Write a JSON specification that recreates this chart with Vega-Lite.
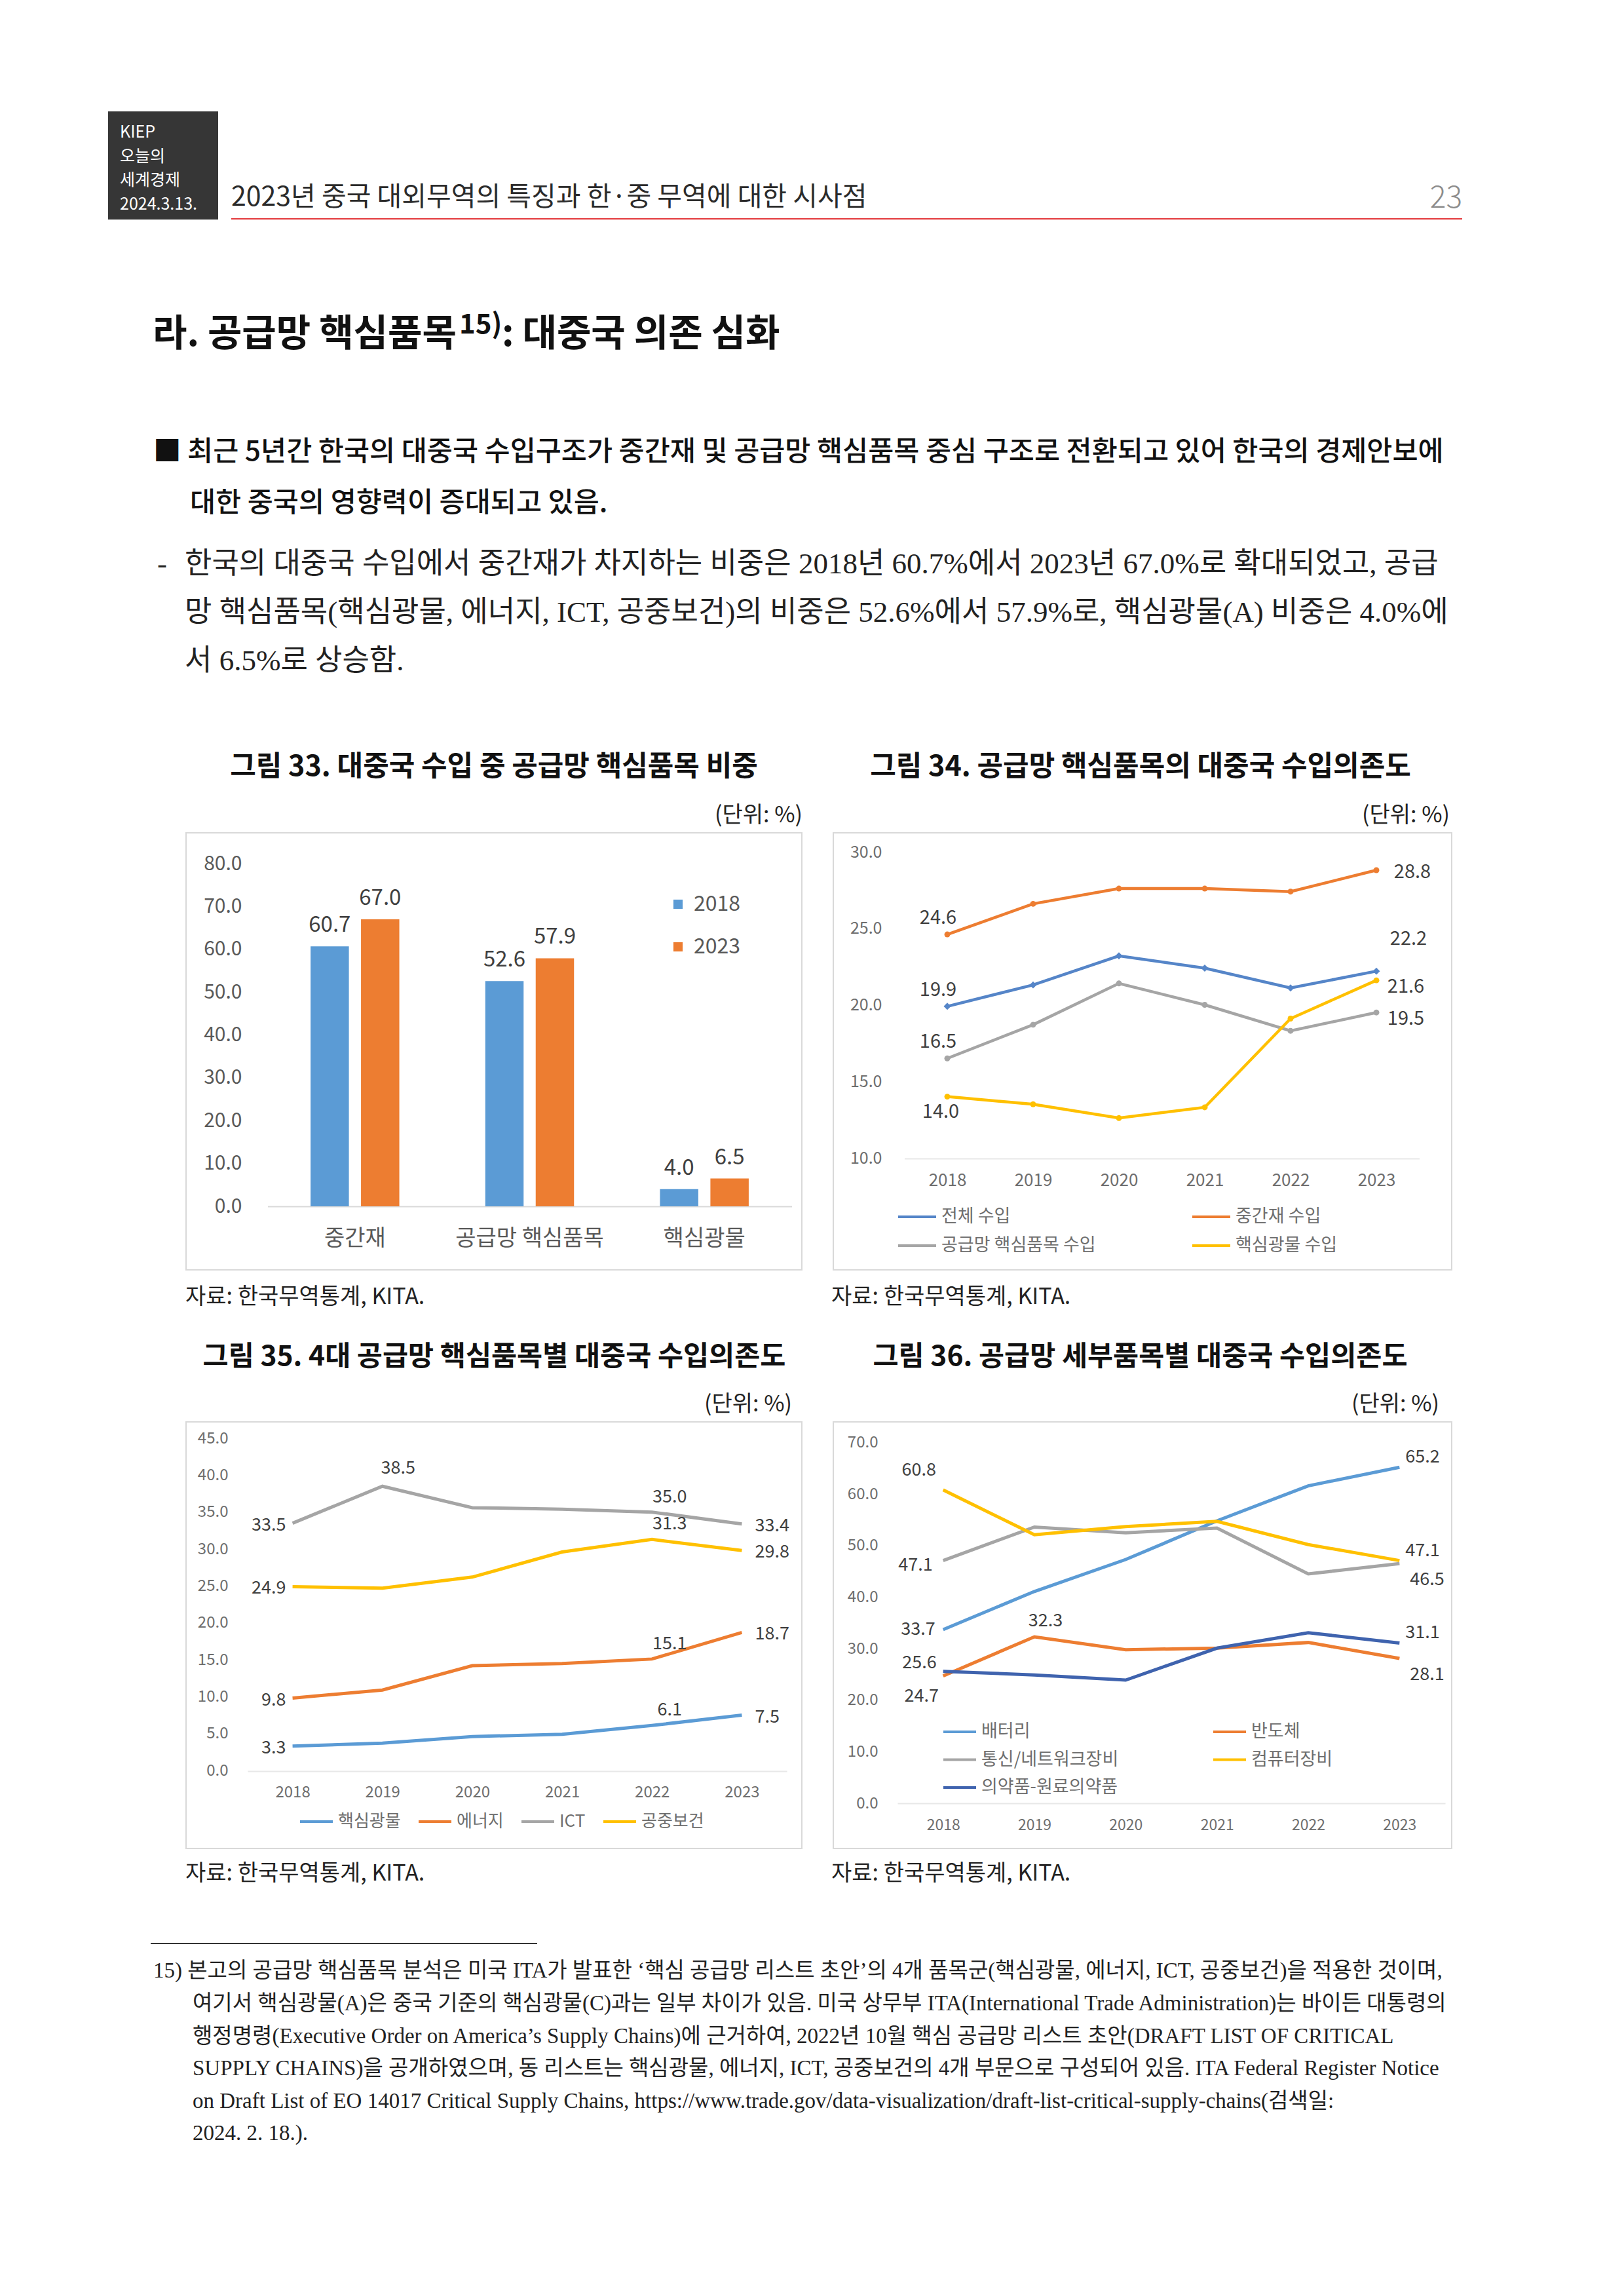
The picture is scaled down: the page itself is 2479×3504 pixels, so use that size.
{
  "$schema": "https://vega.github.io/schema/vega-lite/v6.json",
  "background": "white",
  "padding": {"top": 170, "left": 0, "right": 0, "bottom": 0},
  "config": {
    "view": {"stroke": null},
    "font": "Noto Sans CJK KR",
    "axis": {"labelFont": "Noto Sans CJK KR", "grid": false, "labelLimit": 500},
    "legend": {"labelFont": "Noto Sans CJK KR", "padding": 0, "labelLimit": 500}
  },
  "spacing": 0,
  "resolve": {"scale": {"color": "independent", "shape": "independent"}, "legend": {"color": "independent", "shape": "independent"}},
  "vconcat": [
    {
      "spacing": 20,
      "hconcat": [
        {"width": 145, "height": 165, "data": {"values": [{}]}, "mark": {"type": "text", "text": "", "fontSize": 0.1}},
        {
          "width": 168, "height": 165,
          "view": {"fill": "#363636", "stroke": null},
          "data": {"values": [{"t": "KIEP\n오늘의\n세계경제\n2024.3.13."}]},
          "mark": {"type": "text", "lineBreak": "\n", "lineHeight": 36.7, "align": "left", "baseline": "middle", "dx": -66, "dy": -50.5, "fontSize": 25, "color": "#ffffff", "font": "Noto Sans CJK KR"},
          "encoding": {"text": {"field": "t", "type": "nominal"}}
        },
        {
          "spacing": 0,
          "vconcat": [
            {
              "width": 1879, "height": 163,
              "layer": [
                {"data": {"values": [{"t": "2023년 중국 대외무역의 특징과 한·중 무역에 대한 시사점"}]},
                 "mark": {"type": "text", "align": "left", "baseline": "alphabetic", "dx": -939.5, "dy": 62.5, "fontSize": 41, "color": "#2b2b2b", "font": "Noto Sans CJK KR"},
                 "encoding": {"text": {"field": "t", "type": "nominal"}}},
                {"data": {"values": [{"t": "23"}]},
                 "mark": {"type": "text", "align": "right", "baseline": "alphabetic", "dx": 939.5, "dy": 65.5, "fontSize": 46, "fontWeight": 300, "color": "#8c8c8c", "font": "Noto Sans CJK KR"},
                 "encoding": {"text": {"field": "t", "type": "nominal"}}}
              ]
            },
            {"width": 1879, "height": 2, "view": {"fill": "#e3393c", "stroke": null}, "data": {"values": [{}]}, "mark": {"type": "text", "text": "", "fontSize": 0.1}}
          ]
        }
      ]
    },
    {
      "width": 2479, "height": 935,
      "layer": [
        {"data": {"values": [{"t": "라. 공급망 핵심품목"}]},
         "mark": {"type": "text", "align": "left", "baseline": "alphabetic", "dx": -1006.5, "dy": -275, "fontSize": 57, "fontWeight": 700, "color": "#111111", "font": "Noto Sans CJK KR"},
         "encoding": {"text": {"field": "t", "type": "nominal"}}},
        {"data": {"values": [{"t": "15)"}]},
         "mark": {"type": "text", "align": "left", "baseline": "alphabetic", "dx": -538.5, "dy": -294, "fontSize": 42, "fontWeight": 700, "color": "#111111", "font": "Noto Sans CJK KR"},
         "encoding": {"text": {"field": "t", "type": "nominal"}}},
        {"data": {"values": [{"t": ": 대중국 의존 심화"}]},
         "mark": {"type": "text", "align": "left", "baseline": "alphabetic", "dx": -473.5, "dy": -275, "fontSize": 57, "fontWeight": 700, "color": "#111111", "font": "Noto Sans CJK KR"},
         "encoding": {"text": {"field": "t", "type": "nominal"}}},
        {"data": {"values": [{"t": "■ 최근 5년간 한국의 대중국 수입구조가 중간재 및 공급망 핵심품목 중심 구조로 전환되고 있어 한국의 경제안보에"}]},
         "mark": {"type": "text", "align": "left", "baseline": "alphabetic", "dx": -1005.5, "dy": -99.5, "fontSize": 42.5, "fontWeight": 500, "color": "#111111", "font": "Noto Sans CJK KR"},
         "encoding": {"text": {"field": "t", "type": "nominal"}}},
        {"data": {"values": [{"t": "대한 중국의 영향력이 증대되고 있음."}]},
         "mark": {"type": "text", "align": "left", "baseline": "alphabetic", "dx": -949.5, "dy": -21.5, "fontSize": 42.5, "fontWeight": 500, "color": "#111111", "font": "Noto Sans CJK KR"},
         "encoding": {"text": {"field": "t", "type": "nominal"}}},
        {"data": {"values": [{"t": "-"}]},
         "mark": {"type": "text", "align": "left", "baseline": "alphabetic", "dx": -999.5, "dy": 72, "fontSize": 45, "color": "#222222", "font": "Liberation Serif, Noto Sans CJK KR"},
         "encoding": {"text": {"field": "t", "type": "nominal"}}},
        {"data": {"values": [{"t": "한국의 대중국 수입에서 중간재가 차지하는 비중은 2018년 60.7%에서 2023년 67.0%로 확대되었고, 공급"}]},
         "mark": {"type": "text", "align": "left", "baseline": "alphabetic", "dx": -957.5, "dy": 72, "fontSize": 45, "color": "#222222", "font": "Liberation Serif, Noto Sans CJK KR"},
         "encoding": {"text": {"field": "t", "type": "nominal"}}},
        {"data": {"values": [{"t": "망 핵심품목(핵심광물, 에너지, ICT, 공중보건)의 비중은 52.6%에서 57.9%로, 핵심광물(A) 비중은 4.0%에\n서 6.5%로 상승함."}]},
         "mark": {"type": "text", "align": "left", "baseline": "alphabetic", "lineBreak": "\n", "lineHeight": 74, "dx": -957.5, "dy": 146, "fontSize": 45, "color": "#222222", "font": "Liberation Serif, Noto Sans CJK KR"},
         "encoding": {"text": {"field": "t", "type": "nominal"}}},
        {"data": {"values": [{"t": "그림 33. 대중국 수입 중 공급망 핵심품목 비중"}]},
         "mark": {"type": "text", "align": "center", "baseline": "alphabetic", "dx": -485.5, "dy": 381, "fontSize": 43, "fontWeight": 700, "color": "#111111", "font": "Noto Sans CJK KR"},
         "encoding": {"text": {"field": "t", "type": "nominal"}}},
        {"data": {"values": [{"t": "그림 34. 공급망 핵심품목의 대중국 수입의존도"}]},
         "mark": {"type": "text", "align": "center", "baseline": "alphabetic", "dx": 501.5, "dy": 381, "fontSize": 43, "fontWeight": 700, "color": "#111111", "font": "Noto Sans CJK KR"},
         "encoding": {"text": {"field": "t", "type": "nominal"}}},
        {"data": {"values": [{"t": "(단위: %)"}]},
         "mark": {"type": "text", "align": "right", "baseline": "alphabetic", "dx": -14.5, "dy": 452, "fontSize": 34, "color": "#222222", "font": "Noto Sans CJK KR"},
         "encoding": {"text": {"field": "t", "type": "nominal"}}},
        {"data": {"values": [{"t": "(단위: %)"}]},
         "mark": {"type": "text", "align": "right", "baseline": "alphabetic", "dx": 973.5, "dy": 452, "fontSize": 34, "color": "#222222", "font": "Noto Sans CJK KR"},
         "encoding": {"text": {"field": "t", "type": "nominal"}}}
      ]
    },
    {
      "spacing": 46,
      "resolve": {"scale": {"color": "independent", "shape": "independent"}, "legend": {"color": "independent", "shape": "independent"}},
      "hconcat": [
        {"width": 237, "height": 667, "data": {"values": [{}]}, "mark": {"type": "text", "text": "", "fontSize": 0.1}},
        {
          "width": 940, "height": 667,
          "view": {"stroke": "#d9d9d9", "strokeWidth": 2},
          "data": {"values": [
            {"cat": "중간재", "year": "2018", "v": 60.7},
            {"cat": "중간재", "year": "2023", "v": 67.0},
            {"cat": "공급망 핵심품목", "year": "2018", "v": 52.6},
            {"cat": "공급망 핵심품목", "year": "2023", "v": 57.9},
            {"cat": "핵심광물", "year": "2018", "v": 4.0},
            {"cat": "핵심광물", "year": "2023", "v": 6.5}
          ]},
          "encoding": {
            "x": {"field": "cat", "type": "nominal", "sort": ["중간재", "공급망 핵심품목", "핵심광물"],
                  "scale": {"range": [124.5, 924.5], "paddingInner": 0.492, "paddingOuter": 0.246},
                  "axis": {"orient": "bottom", "offset": -97, "title": null, "labelAngle": 0, "ticks": false, "tickSize": 0, "labelPadding": 49, "labelBaseline": "middle", "labelFontSize": 34, "labelColor": "#595959", "labelLimit": 500, "domainColor": "#d9d9d9", "domainWidth": 2}},
            "xOffset": {"field": "year", "type": "nominal", "scale": {"paddingInner": 0.24, "paddingOuter": 0}},
            "y": {"field": "v", "type": "quantitative",
                  "scale": {"domain": [0, 80], "range": [570, 47], "nice": false},
                  "axis": {"orient": "left", "offset": -124, "title": null, "values": [0, 10, 20, 30, 40, 50, 60, 70, 80], "format": ".1f", "domain": false, "ticks": false, "tickSize": 0, "labelPadding": 39, "labelFontSize": 30, "labelColor": "#595959"}}
          },
          "layer": [
            {"mark": {"type": "bar"},
             "encoding": {"color": {"field": "year", "type": "nominal", "scale": {"domain": ["2018", "2023"], "range": ["#5B9BD5", "#ED7D31"]},
               "legend": {"orient": "none", "legendX": 735, "legendY": 93, "direction": "vertical", "title": null, "symbolType": "square", "symbolSize": 200, "symbolStrokeWidth": 0, "labelFontSize": 32, "labelColor": "#595959", "rowPadding": 33, "labelOffset": 8}}}},
            {"mark": {"type": "text", "baseline": "alphabetic", "dy": -22, "fontSize": 33, "color": "#404040"},
             "encoding": {"text": {"field": "v", "type": "quantitative", "format": ".1f"}}}
          ]
        },
        {
          "width": 944, "height": 667,
          "view": {"stroke": "#d9d9d9", "strokeWidth": 2},
          "data": {"values": [
            {"s": "전체 수입", "year": "2018", "v": 19.9}, {"s": "전체 수입", "year": "2019", "v": 21.3}, {"s": "전체 수입", "year": "2020", "v": 23.2},
            {"s": "전체 수입", "year": "2021", "v": 22.4}, {"s": "전체 수입", "year": "2022", "v": 21.1}, {"s": "전체 수입", "year": "2023", "v": 22.2},
            {"s": "중간재 수입", "year": "2018", "v": 24.6}, {"s": "중간재 수입", "year": "2019", "v": 26.6}, {"s": "중간재 수입", "year": "2020", "v": 27.6},
            {"s": "중간재 수입", "year": "2021", "v": 27.6}, {"s": "중간재 수입", "year": "2022", "v": 27.4}, {"s": "중간재 수입", "year": "2023", "v": 28.8},
            {"s": "공급망 핵심품목 수입", "year": "2018", "v": 16.5}, {"s": "공급망 핵심품목 수입", "year": "2019", "v": 18.7}, {"s": "공급망 핵심품목 수입", "year": "2020", "v": 21.4},
            {"s": "공급망 핵심품목 수입", "year": "2021", "v": 20.0}, {"s": "공급망 핵심품목 수입", "year": "2022", "v": 18.3}, {"s": "공급망 핵심품목 수입", "year": "2023", "v": 19.5},
            {"s": "핵심광물 수입", "year": "2018", "v": 14.0}, {"s": "핵심광물 수입", "year": "2019", "v": 13.5}, {"s": "핵심광물 수입", "year": "2020", "v": 12.6},
            {"s": "핵심광물 수입", "year": "2021", "v": 13.3}, {"s": "핵심광물 수입", "year": "2022", "v": 19.1}, {"s": "핵심광물 수입", "year": "2023", "v": 21.6}
          ]},
          "encoding": {
            "x": {"field": "year", "type": "ordinal", "scale": {"type": "point", "range": [108.5, 894.5], "padding": 0.5},
                  "axis": {"orient": "bottom", "offset": -170, "title": null, "labelAngle": 0, "ticks": false, "tickSize": 0, "labelPadding": 33, "labelBaseline": "middle", "labelFontSize": 26, "labelColor": "#6e6e6e", "domainColor": "#e8e8e8", "domainWidth": 2}},
            "y": {"field": "v", "type": "quantitative", "scale": {"domain": [10, 30], "range": [496, 29], "zero": false, "nice": false},
                  "axis": {"orient": "left", "offset": -108, "title": null, "values": [10, 15, 20, 25, 30], "format": ".1f", "domain": false, "ticks": false, "tickSize": 0, "labelPadding": 34, "labelFontSize": 25, "labelColor": "#6e6e6e"}}
          },
          "layer": [
            {"mark": {"type": "line", "strokeWidth": 4.5},
             "encoding": {"color": {"field": "s", "type": "nominal",
                      "scale": {"domain": ["전체 수입", "중간재 수입", "공급망 핵심품목 수입", "핵심광물 수입"], "range": ["#5585C8", "#ED7D31", "#A5A5A5", "#FFC000"]},
                      "legend": {"orient": "none", "legendX": 97, "legendY": 555, "columns": 2, "direction": "horizontal", "title": null, "symbolType": "stroke", "symbolSize": 3364, "symbolStrokeWidth": 4, "labelFontSize": 27, "labelColor": "#6e6e6e", "labelLimit": 500, "rowPadding": 0, "columnPadding": 139, "labelOffset": 6}}}},
            {"transform": [{"filter": "datum.s == '전체 수입'"}],
             "mark": {"type": "point", "filled": true, "size": 120, "shape": "diamond", "opacity": 1},
             "encoding": {"color": {"field": "s", "type": "nominal", "legend": null}}},
            {"transform": [{"filter": "datum.s != '전체 수입'"}],
             "mark": {"type": "point", "filled": true, "size": 80, "shape": "circle", "opacity": 1},
             "encoding": {"color": {"field": "s", "type": "nominal", "legend": null}}},
            {"transform": [{"filter": "datum.year == '2018' && datum.s != '핵심광물 수입'"}],
             "mark": {"type": "text", "baseline": "middle", "dx": -14, "dy": -25, "fontSize": 29, "color": "#404040"},
             "encoding": {"text": {"field": "v", "type": "quantitative", "format": ".1f"}}},
            {"transform": [{"filter": "datum.year == '2018' && datum.s == '핵심광물 수입'"}],
             "mark": {"type": "text", "baseline": "middle", "dx": -10, "dy": 23, "fontSize": 29, "color": "#404040"},
             "encoding": {"text": {"field": "v", "type": "quantitative", "format": ".1f"}}},
            {"transform": [{"filter": "datum.year == '2023' && datum.s == '중간재 수입'"}],
             "mark": {"type": "text", "baseline": "middle", "dx": 55, "dy": 3, "fontSize": 29, "color": "#404040"},
             "encoding": {"text": {"field": "v", "type": "quantitative", "format": ".1f"}}},
            {"transform": [{"filter": "datum.year == '2023' && (datum.s == '핵심광물 수입' || datum.s == '공급망 핵심품목 수입')"}],
             "mark": {"type": "text", "baseline": "middle", "dx": 45, "dy": 10, "fontSize": 29, "color": "#404040"},
             "encoding": {"text": {"field": "v", "type": "quantitative", "format": ".1f"}}},
            {"transform": [{"filter": "datum.year == '2023' && datum.s == '전체 수입'"}],
             "mark": {"type": "text", "baseline": "middle", "dx": 49, "dy": -49, "fontSize": 29, "color": "#404040"},
             "encoding": {"text": {"field": "v", "type": "quantitative", "format": ".1f"}}}
          ]
        }
      ]
    },
    {
      "width": 2479, "height": 230,
      "layer": [
        {"data": {"values": [{"t": "자료: 한국무역통계, KITA."}]},
         "mark": {"type": "text", "align": "left", "baseline": "alphabetic", "dx": -956.5, "dy": -64, "fontSize": 34, "color": "#222222", "font": "Noto Sans CJK KR"},
         "encoding": {"text": {"field": "t", "type": "nominal"}}},
        {"data": {"values": [{"t": "자료: 한국무역통계, KITA."}]},
         "mark": {"type": "text", "align": "left", "baseline": "alphabetic", "dx": 29.5, "dy": -64, "fontSize": 34, "color": "#222222", "font": "Noto Sans CJK KR"},
         "encoding": {"text": {"field": "t", "type": "nominal"}}},
        {"data": {"values": [{"t": "그림 35. 4대 공급망 핵심품목별 대중국 수입의존도"}]},
         "mark": {"type": "text", "align": "center", "baseline": "alphabetic", "dx": -485, "dy": 30, "fontSize": 42.5, "fontWeight": 700, "color": "#111111", "font": "Noto Sans CJK KR"},
         "encoding": {"text": {"field": "t", "type": "nominal"}}},
        {"data": {"values": [{"t": "그림 36. 공급망 세부품목별 대중국 수입의존도"}]},
         "mark": {"type": "text", "align": "center", "baseline": "alphabetic", "dx": 501, "dy": 30, "fontSize": 42.5, "fontWeight": 700, "color": "#111111", "font": "Noto Sans CJK KR"},
         "encoding": {"text": {"field": "t", "type": "nominal"}}},
        {"data": {"values": [{"t": "(단위: %)"}]},
         "mark": {"type": "text", "align": "right", "baseline": "alphabetic", "dx": -30.5, "dy": 100, "fontSize": 34, "color": "#222222", "font": "Noto Sans CJK KR"},
         "encoding": {"text": {"field": "t", "type": "nominal"}}},
        {"data": {"values": [{"t": "(단위: %)"}]},
         "mark": {"type": "text", "align": "right", "baseline": "alphabetic", "dx": 957.5, "dy": 100, "fontSize": 34, "color": "#222222", "font": "Noto Sans CJK KR"},
         "encoding": {"text": {"field": "t", "type": "nominal"}}}
      ]
    },
    {
      "spacing": 46,
      "resolve": {"scale": {"color": "independent", "shape": "independent"}, "legend": {"color": "independent", "shape": "independent"}},
      "hconcat": [
        {"width": 237, "height": 651, "data": {"values": [{}]}, "mark": {"type": "text", "text": "", "fontSize": 0.1}},
        {
          "width": 940, "height": 651,
          "view": {"stroke": "#d9d9d9", "strokeWidth": 2},
          "data": {"values": [
            {"s": "핵심광물", "year": "2018", "v": 3.3}, {"s": "핵심광물", "year": "2019", "v": 3.7}, {"s": "핵심광물", "year": "2020", "v": 4.6},
            {"s": "핵심광물", "year": "2021", "v": 4.9}, {"s": "핵심광물", "year": "2022", "v": 6.1}, {"s": "핵심광물", "year": "2023", "v": 7.5},
            {"s": "에너지", "year": "2018", "v": 9.8}, {"s": "에너지", "year": "2019", "v": 10.9}, {"s": "에너지", "year": "2020", "v": 14.2},
            {"s": "에너지", "year": "2021", "v": 14.5}, {"s": "에너지", "year": "2022", "v": 15.1}, {"s": "에너지", "year": "2023", "v": 18.7},
            {"s": "ICT", "year": "2018", "v": 33.5}, {"s": "ICT", "year": "2019", "v": 38.5}, {"s": "ICT", "year": "2020", "v": 35.6},
            {"s": "ICT", "year": "2021", "v": 35.4}, {"s": "ICT", "year": "2022", "v": 35.0}, {"s": "ICT", "year": "2023", "v": 33.4},
            {"s": "공중보건", "year": "2018", "v": 24.9}, {"s": "공중보건", "year": "2019", "v": 24.7}, {"s": "공중보건", "year": "2020", "v": 26.2},
            {"s": "공중보건", "year": "2021", "v": 29.6}, {"s": "공중보건", "year": "2022", "v": 31.3}, {"s": "공중보건", "year": "2023", "v": 29.8}
          ]},
          "encoding": {
            "x": {"field": "year", "type": "ordinal", "scale": {"type": "point", "range": [94, 917], "padding": 0.5},
                  "axis": {"orient": "bottom", "offset": -118, "title": null, "labelAngle": 0, "ticks": false, "tickSize": 0, "labelPadding": 32, "labelBaseline": "middle", "labelFontSize": 24, "labelColor": "#6e6e6e", "domainColor": "#e8e8e8", "domainWidth": 2}},
            "y": {"field": "v", "type": "quantitative", "scale": {"domain": [0, 45], "range": [532, 25], "nice": false},
                  "axis": {"orient": "left", "offset": -95, "title": null, "values": [0, 5, 10, 15, 20, 25, 30, 35, 40, 45], "format": ".1f", "domain": false, "ticks": false, "tickSize": 0, "labelPadding": 31, "labelFontSize": 24, "labelColor": "#6e6e6e"}},
            "color": {"field": "s", "type": "nominal",
                      "scale": {"domain": ["핵심광물", "에너지", "ICT", "공중보건"], "range": ["#5B9BD5", "#ED7D31", "#A5A5A5", "#FFC000"]},
                      "legend": {"orient": "none", "legendX": 172, "legendY": 583, "columns": 4, "direction": "horizontal", "title": null, "symbolType": "stroke", "symbolSize": 2500, "symbolStrokeWidth": 4, "labelFontSize": 26, "labelColor": "#6e6e6e", "columnPadding": 19, "labelOffset": 6}}
          },
          "layer": [
            {"mark": {"type": "line", "strokeWidth": 5}},
            {"transform": [{"filter": "datum.year == '2018'"}],
             "mark": {"type": "text", "align": "right", "baseline": "middle", "dx": -10, "dy": 3, "fontSize": 27},
             "encoding": {"text": {"field": "v", "type": "quantitative", "format": ".1f"}, "color": {"value": "#404040"}}},
            {"transform": [{"filter": "datum.year == '2019' && datum.s == 'ICT'"}],
             "mark": {"type": "text", "align": "center", "baseline": "middle", "dx": 24, "dy": -27, "fontSize": 27},
             "encoding": {"text": {"field": "v", "type": "quantitative", "format": ".1f"}, "color": {"value": "#404040"}}},
            {"transform": [{"filter": "datum.year == '2022'"}],
             "mark": {"type": "text", "align": "center", "baseline": "middle", "dx": 27, "dy": -23, "fontSize": 27},
             "encoding": {"text": {"field": "v", "type": "quantitative", "format": ".1f"}, "color": {"value": "#404040"}}},
            {"transform": [{"filter": "datum.year == '2023'"}],
             "mark": {"type": "text", "align": "left", "baseline": "middle", "dx": 20, "dy": 3, "fontSize": 27},
             "encoding": {"text": {"field": "v", "type": "quantitative", "format": ".1f"}, "color": {"value": "#404040"}}}
          ]
        },
        {
          "width": 944, "height": 651,
          "view": {"stroke": "#d9d9d9", "strokeWidth": 2},
          "data": {"values": [
            {"s": "배터리", "year": "2018", "v": 33.7}, {"s": "배터리", "year": "2019", "v": 41.1}, {"s": "배터리", "year": "2020", "v": 47.3},
            {"s": "배터리", "year": "2021", "v": 54.8}, {"s": "배터리", "year": "2022", "v": 61.6}, {"s": "배터리", "year": "2023", "v": 65.2},
            {"s": "반도체", "year": "2018", "v": 24.7}, {"s": "반도체", "year": "2019", "v": 32.3}, {"s": "반도체", "year": "2020", "v": 29.8},
            {"s": "반도체", "year": "2021", "v": 30.1}, {"s": "반도체", "year": "2022", "v": 31.2}, {"s": "반도체", "year": "2023", "v": 28.1},
            {"s": "통신/네트워크장비", "year": "2018", "v": 47.1}, {"s": "통신/네트워크장비", "year": "2019", "v": 53.6}, {"s": "통신/네트워크장비", "year": "2020", "v": 52.5},
            {"s": "통신/네트워크장비", "year": "2021", "v": 53.4}, {"s": "통신/네트워크장비", "year": "2022", "v": 44.5}, {"s": "통신/네트워크장비", "year": "2023", "v": 46.5},
            {"s": "컴퓨터장비", "year": "2018", "v": 60.8}, {"s": "컴퓨터장비", "year": "2019", "v": 52.1}, {"s": "컴퓨터장비", "year": "2020", "v": 53.7},
            {"s": "컴퓨터장비", "year": "2021", "v": 54.7}, {"s": "컴퓨터장비", "year": "2022", "v": 50.2}, {"s": "컴퓨터장비", "year": "2023", "v": 47.1},
            {"s": "의약품-원료의약품", "year": "2018", "v": 25.6}, {"s": "의약품-원료의약품", "year": "2019", "v": 24.9}, {"s": "의약품-원료의약품", "year": "2020", "v": 23.9},
            {"s": "의약품-원료의약품", "year": "2021", "v": 30.1}, {"s": "의약품-원료의약품", "year": "2022", "v": 33.1}, {"s": "의약품-원료의약품", "year": "2023", "v": 31.1}
          ]},
          "encoding": {
            "x": {"field": "year", "type": "ordinal", "scale": {"type": "point", "range": [98, 934], "padding": 0.5},
                  "axis": {"orient": "bottom", "offset": -69, "title": null, "labelAngle": 0, "ticks": false, "tickSize": 0, "labelPadding": 33, "labelBaseline": "middle", "labelFontSize": 23, "labelColor": "#6e6e6e", "domainColor": "#e8e8e8", "domainWidth": 2}},
            "y": {"field": "v", "type": "quantitative", "scale": {"domain": [0, 70], "range": [582, 31.5], "nice": false},
                  "axis": {"orient": "left", "offset": -99, "title": null, "values": [0, 10, 20, 30, 40, 50, 60, 70], "format": ".1f", "domain": false, "ticks": false, "tickSize": 0, "labelPadding": 31, "labelFontSize": 24, "labelColor": "#6e6e6e"}},
            "color": {"field": "s", "type": "nominal",
                      "scale": {"domain": ["배터리", "반도체", "통신/네트워크장비", "컴퓨터장비", "의약품-원료의약품"], "range": ["#5B9BD5", "#ED7D31", "#A5A5A5", "#FFC000", "#3F63AE"]},
                      "legend": {"orient": "none", "legendX": 166, "legendY": 446, "columns": 2, "direction": "horizontal", "title": null, "symbolType": "stroke", "symbolSize": 2500, "symbolStrokeWidth": 4, "labelFontSize": 27, "labelColor": "#6e6e6e", "labelLimit": 500, "rowPadding": 2.5, "columnPadding": 136, "labelOffset": 6}}
          },
          "layer": [
            {"mark": {"type": "line", "strokeWidth": 5}},
            {"transform": [{"filter": "datum.year == '2018' && datum.s == '컴퓨터장비'"}],
             "mark": {"type": "text", "align": "center", "baseline": "middle", "dx": -37, "dy": -30, "fontSize": 27},
             "encoding": {"text": {"field": "v", "type": "quantitative", "format": ".1f"}, "color": {"value": "#404040"}}},
            {"transform": [{"filter": "datum.year == '2018' && datum.s == '통신/네트워크장비'"}],
             "mark": {"type": "text", "align": "right", "baseline": "middle", "dx": -16, "dy": 7, "fontSize": 27},
             "encoding": {"text": {"field": "v", "type": "quantitative", "format": ".1f"}, "color": {"value": "#404040"}}},
            {"transform": [{"filter": "datum.year == '2018' && datum.s == '배터리'"}],
             "mark": {"type": "text", "align": "right", "baseline": "middle", "dx": -12, "dy": 0, "fontSize": 27},
             "encoding": {"text": {"field": "v", "type": "quantitative", "format": ".1f"}, "color": {"value": "#404040"}}},
            {"transform": [{"filter": "datum.year == '2018' && datum.s == '의약품-원료의약품'"}],
             "mark": {"type": "text", "align": "right", "baseline": "middle", "dx": -10, "dy": -13, "fontSize": 27},
             "encoding": {"text": {"field": "v", "type": "quantitative", "format": ".1f"}, "color": {"value": "#404040"}}},
            {"transform": [{"filter": "datum.year == '2018' && datum.s == '반도체'"}],
             "mark": {"type": "text", "align": "center", "baseline": "middle", "dx": -33, "dy": 31, "fontSize": 27},
             "encoding": {"text": {"field": "v", "type": "quantitative", "format": ".1f"}, "color": {"value": "#404040"}}},
            {"transform": [{"filter": "datum.year == '2019' && datum.s == '반도체'"}],
             "mark": {"type": "text", "align": "center", "baseline": "middle", "dx": 17, "dy": -24, "fontSize": 27},
             "encoding": {"text": {"field": "v", "type": "quantitative", "format": ".1f"}, "color": {"value": "#404040"}}},
            {"transform": [{"filter": "datum.year == '2023' && (datum.s == '배터리' || datum.s == '컴퓨터장비' || datum.s == '의약품-원료의약품')"}],
             "mark": {"type": "text", "align": "left", "baseline": "middle", "dx": 9, "dy": -15, "fontSize": 27},
             "encoding": {"text": {"field": "v", "type": "quantitative", "format": ".1f"}, "color": {"value": "#404040"}}},
            {"transform": [{"filter": "datum.year == '2023' && (datum.s == '통신/네트워크장비' || datum.s == '반도체')"}],
             "mark": {"type": "text", "align": "left", "baseline": "middle", "dx": 16, "dy": 25, "fontSize": 27},
             "encoding": {"text": {"field": "v", "type": "quantitative", "format": ".1f"}, "color": {"value": "#404040"}}}
          ]
        }
      ]
    },
    {
      "width": 2479, "height": 143,
      "layer": [
        {"data": {"values": [{"t": "자료: 한국무역통계, KITA."}]},
         "mark": {"type": "text", "align": "left", "baseline": "alphabetic", "dx": -956.5, "dy": -23.5, "fontSize": 34, "color": "#222222", "font": "Noto Sans CJK KR"},
         "encoding": {"text": {"field": "t", "type": "nominal"}}},
        {"data": {"values": [{"t": "자료: 한국무역통계, KITA."}]},
         "mark": {"type": "text", "align": "left", "baseline": "alphabetic", "dx": 29.5, "dy": -23.5, "fontSize": 34, "color": "#222222", "font": "Noto Sans CJK KR"},
         "encoding": {"text": {"field": "t", "type": "nominal"}}}
      ]
    },
    {
      "spacing": 0,
      "hconcat": [
        {"width": 230, "height": 2, "data": {"values": [{}]}, "mark": {"type": "text", "text": "", "fontSize": 0.1}},
        {"width": 590, "height": 2, "view": {"fill": "#333333", "stroke": null}, "data": {"values": [{}]}, "mark": {"type": "text", "text": "", "fontSize": 0.1}}
      ]
    },
    {
      "width": 2479, "height": 541,
      "layer": [
        {"data": {"values": [{"t": "15) 본고의 공급망 핵심품목 분석은 미국 ITA가 발표한 ‘핵심 공급망 리스트 초안’의 4개 품목군(핵심광물, 에너지, ICT, 공중보건)을 적용한 것이며,"}]},
         "mark": {"type": "text", "align": "left", "baseline": "alphabetic", "dx": -1005.5, "dy": -219.5, "fontSize": 33, "color": "#222222", "font": "Liberation Serif, Noto Sans CJK KR"},
         "encoding": {"text": {"field": "t", "type": "nominal"}}},
        {"data": {"values": [{"t": "여기서 핵심광물(A)은 중국 기준의 핵심광물(C)과는 일부 차이가 있음. 미국 상무부 ITA(International Trade Administration)는 바이든 대통령의\n행정명령(Executive Order on America’s Supply Chains)에 근거하여, 2022년 10월 핵심 공급망 리스트 초안(DRAFT LIST OF CRITICAL\nSUPPLY CHAINS)을 공개하였으며, 동 리스트는 핵심광물, 에너지, ICT, 공중보건의 4개 부문으로 구성되어 있음. ITA Federal Register Notice\non Draft List of EO 14017 Critical Supply Chains, https://www.trade.gov/data-visualization/draft-list-critical-supply-chains(검색일:\n2024. 2. 18.)."}]},
         "mark": {"type": "text", "align": "left", "baseline": "alphabetic", "lineBreak": "\n", "lineHeight": 49.5, "dx": -945.5, "dy": -169.5, "fontSize": 33, "color": "#222222", "font": "Liberation Serif, Noto Sans CJK KR"},
         "encoding": {"text": {"field": "t", "type": "nominal"}}}
      ]
    }
  ]
}
